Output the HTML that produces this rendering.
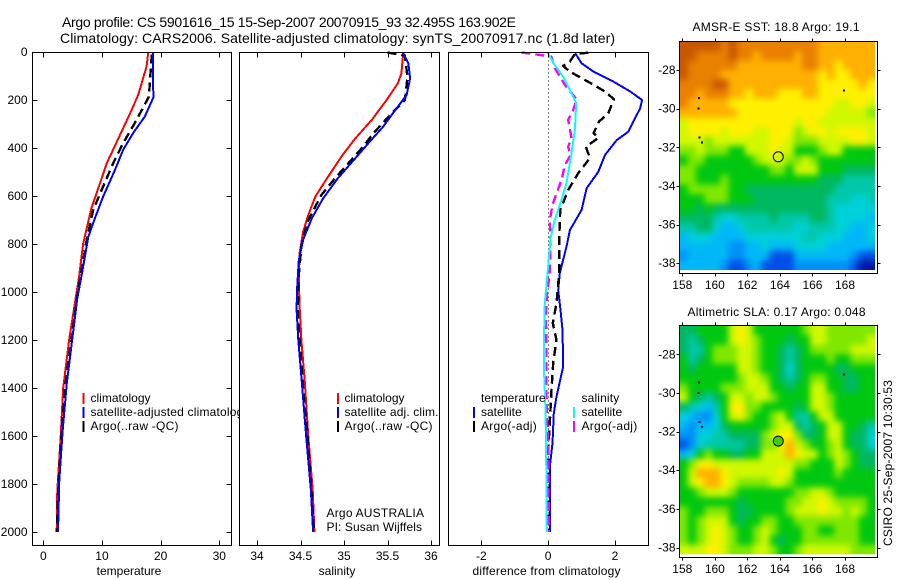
<!DOCTYPE html>
<html lang="en">
<head>
<meta charset="utf-8">
<title>Argo profile</title>
<style>
html,body{margin:0;padding:0;background:#fff;}
svg{display:block;}
text{font-family:"Liberation Sans",sans-serif;font-size:12px;fill:#000;}
.crisp{shape-rendering:crispEdges;}
</style>
</head>
<body>
<svg id="figure" xmlns="http://www.w3.org/2000/svg" width="900" height="580" viewBox="0 0 900 580">
  <defs>
    <filter id="map-smooth" filterUnits="userSpaceOnUse" x="650" y="20" width="250" height="560" color-interpolation-filters="sRGB">
      <feGaussianBlur stdDeviation="3.2"/>
      <feComponentTransfer>
        <feFuncA type="discrete" tableValues="1"/>
      </feComponentTransfer>
    </filter>
  </defs>
  <rect x="0" y="0" width="900" height="580" fill="#fff"/>
  <text x="62" y="27" style="font-size:14px" textLength="454" lengthAdjust="spacing">Argo profile: CS 5901616_15 15-Sep-2007 20070915_93 32.495S 163.902E</text>
  <text x="60" y="43" style="font-size:14px" textLength="555" lengthAdjust="spacing">Climatology: CARS2006. Satellite-adjusted climatology: synTS_20070917.nc (1.8d later)</text>

  <g id="panel-temp">
    <rect x="32.5" y="52.5" width="199" height="493" fill="#fff"/>
    <g id="series-temp" class="crisp" fill="none"></g>
    <g>
      <rect class="crisp" x="82.5" y="393" width="2" height="11" fill="#f00"/>
      <text x="90.5" y="402">climatology</text>
      <rect class="crisp" x="82.5" y="407" width="2" height="11" fill="#00f"/>
      <text x="90.5" y="416" textLength="159" lengthAdjust="spacing">satellite-adjusted climatology</text>
      <rect class="crisp" x="82.5" y="421" width="2" height="11" fill="#000"/>
      <text x="90.5" y="430" textLength="88" lengthAdjust="spacing">Argo(..raw -QC)</text>
    </g>
    <g id="axes-temp"></g>
    <text x="129" y="575" text-anchor="middle">temperature</text>
  </g>

  <g id="panel-sal">
    <rect x="239.5" y="52.5" width="200" height="493" fill="#fff"/>
    <g id="series-sal" class="crisp" fill="none"></g>
    <g>
      <rect class="crisp" x="337" y="393" width="2" height="11" fill="#f00"/>
      <text x="344.5" y="402">climatology</text>
      <rect class="crisp" x="337" y="407" width="2" height="11" fill="#00f"/>
      <text x="344.5" y="416" textLength="94" lengthAdjust="spacing">satellite adj. clim.</text>
      <rect class="crisp" x="337" y="421" width="2" height="11" fill="#000"/>
      <text x="344.5" y="430" textLength="88" lengthAdjust="spacing">Argo(..raw -QC)</text>
    </g>
    <text x="326.5" y="517" textLength="97.5" lengthAdjust="spacing">Argo AUSTRALIA</text>
    <text x="326.5" y="531" textLength="95.5" lengthAdjust="spacing">PI: Susan Wijffels</text>
    <g id="axes-sal"></g>
    <text x="337" y="575" text-anchor="middle">salinity</text>
  </g>

  <g id="panel-diff">
    <rect x="448.5" y="52.5" width="200" height="493" fill="#fff"/>
    <line id="zero-line" class="crisp" stroke="#000" stroke-width="1" stroke-dasharray="1 3"/>
    <g id="series-diff" class="crisp" fill="none"></g>
    <g>
      <text x="481" y="402">temperature</text>
      <rect class="crisp" x="473" y="407" width="2" height="11" fill="#00f"/>
      <text x="481" y="416" textLength="40.7" lengthAdjust="spacing">satellite</text>
      <rect class="crisp" x="473" y="421" width="2" height="11" fill="#000"/>
      <text x="481" y="430" textLength="55.7" lengthAdjust="spacing">Argo(-adj)</text>
      <text x="581.5" y="402" textLength="37.7" lengthAdjust="spacing">salinity</text>
      <rect class="crisp" x="573" y="407" width="2" height="11" fill="#0ff"/>
      <text x="581.5" y="416" textLength="40.7" lengthAdjust="spacing">satellite</text>
      <rect class="crisp" x="573" y="421" width="2" height="11" fill="#f0f"/>
      <text x="581.5" y="430" textLength="55.7" lengthAdjust="spacing">Argo(-adj)</text>
    </g>
    <g id="axes-diff"></g>
    <text x="472.5" y="575" textLength="148" lengthAdjust="spacing">difference from climatology</text>
  </g>

  <text x="692.5" y="31" textLength="167" lengthAdjust="spacing">AMSR-E SST: 18.8 Argo: 19.1</text>
  <g id="map-sst"></g>
  <text x="687.5" y="316" textLength="178" lengthAdjust="spacing">Altimetric SLA: 0.17 Argo: 0.048</text>
  <g id="map-sla"></g>
  <text transform="translate(892,546) rotate(-90)" textLength="166" lengthAdjust="spacing">CSIRO 25-Sep-2007 10:30:53</text>
</svg>

<script>
// ---- profile axis tick values ----
const depthTicks = [0,200,400,600,800,1000,1200,1400,1600,1800,2000];
const tempTicks = [0,10,20,30];
const salTicks = [34,34.5,35,35.5,36];
const salTickLabels = ["34","34.5","35","35.5","36"];
const diffTicks = [-2,0,2];
const lonTicks = [158,160,162,164,166,168];
const latTicks = [-28,-30,-32,-34,-36,-38];

// ---- temperature panel ----
const tempClimDepth = [0,60,178,242,360,464,547,651,798,936,1018,1200,1400,1603,1825,2000];
const tempClimValue = [17.9,17.6,16.2,15.05,12.8,10.8,9.66,8.2,6.8,6.1,5.57,4.4,3.4,2.96,2.39,2.28];
const tempSatDepth = [0,190,269,338,408,492,603,693,770,908,1026,1380,1575,1783,2000];
const tempSatValue = [18.7,18.75,17.3,15.3,13.6,12.2,10.2,8.8,7.67,6.7,5.8,4.0,3.3,2.73,2.5];
const tempArgoDepth = [10,186,283,380,464,561,658,783,1000,1400,1600,1800,2000];
const tempArgoValue = [18.5,18.0,15.9,13.6,11.9,10.2,8.5,7.4,5.9,3.7,3.1,2.6,2.3];

// ---- salinity panel ----
const salClimDepth = [5,89,130,200,283,360,436,540,603,679,749,838,950,1061,1200,1374,1603,1825,2000];
const salClimValue = [35.68,35.66,35.62,35.49,35.32,35.13,34.97,34.78,34.67,34.59,34.53,34.49,34.48,34.49,34.51,34.55,34.59,34.64,34.66];
const salSatDepth = [5,47,110,179,242,311,380,443,526,610,693,783,867,992,1075,1200,1374,1603,1825,2000];
const salSatValue = [35.68,35.74,35.76,35.72,35.59,35.45,35.28,35.13,34.93,34.76,34.63,34.53,34.48,34.46,34.455,34.475,34.515,34.565,34.62,34.645];
const salArgoDepth = [2,15,105,200,255,338,395,464,525,596,707,811,950,1100,1400,1600,1800,2000];
const salArgoValue = [35.5,35.7,35.73,35.7,35.55,35.34,35.22,35.05,34.9,34.74,34.58,34.51,34.475,34.47,34.53,34.58,34.62,34.655];

// ---- difference panel ----
const diffTempSatDepth = [5,47,82,124,165,200,235,276,332,367,429,499,568,658,742,811,921,992,1075,1158,1311,1436,1505,1630,1728,2000];
const diffTempSatValue = [0.81,1.0,1.36,1.96,2.46,2.81,2.75,2.6,2.4,2.05,1.7,1.5,1.15,1.0,0.65,0.55,0.35,0.3,0.37,0.43,0.45,0.25,0.17,0.13,0.05,0.05];
const diffTempArgoDepth = [3,8,40,58,82,124,165,197,255,290,338,358,395,442,505,575,658,783,921,1046,1130,1200,1296,1408,1546,1672,2000];
const diffTempArgoValue = [1.2,0.8,0.65,0.45,0.65,1.2,1.7,1.97,1.8,1.52,1.36,1.5,1.13,1.25,0.9,0.6,0.36,0.33,0.33,0.25,0.14,0.25,0.15,0.1,0.05,0,0];
const diffSalSatDepth = [2,54,103,172,213,325,421,546,617,700,770,894,1046,1171,1337,1492,1644,2000];
const diffSalSatValue = [-0.02,0.2,0.45,0.7,0.84,0.8,0.7,0.55,0.4,0.2,0.08,0,-0.1,-0.12,-0.12,-0.08,-0.06,-0.04];
const diffSalArgoDepth = [2,12,20,67,137,197,242,283,358,395,430,471,533,582,637,700,783,921,1004,1088,1242,1436,1617,2000];
const diffSalArgoValue = [-0.8,-0.25,0.1,0.2,0.5,0.85,0.75,0.6,0.7,0.6,0.67,0.5,0.4,0.27,0.13,0.05,0.07,0.05,-0.03,-0.07,-0.05,-0.05,0,0.02];

// ---- map colour levels (0 = coldest/lowest ... 13 = warmest/highest) ----
const levelColors = ["#0018a8","#0050e8","#0090f8","#00b8f8","#00d0d8","#00c8a8","#00b860","#00c810","#80e800","#d0f800","#fff000","#ffb000","#e88000","#c85800"];
const sstLevels = [
[13,13,13,13,13,12,13,12,12,12,12,12,12,12,12,12,12,11,11,11,11,11,11,11],
[13,13,12,12,12,12,13,12,12,11,12,12,12,12,11,12,12,11,11,11,11,11,11,11],
[13,12,12,12,12,12,12,11,11,11,11,11,11,11,11,12,12,11,11,10,11,11,11,11],
[13,12,12,12,12,11,11,11,11,11,11,11,11,11,11,11,11,10,11,10,10,11,11,11],
[12,12,12,12,13,13,11,11,11,11,11,11,11,11,11,11,11,10,10,10,10,10,11,10],
[12,12,11,12,12,12,11,11,10,11,11,11,10,10,10,11,11,10,10,10,10,10,10,10],
[12,11,11,11,11,11,10,10,10,10,10,10,10,10,10,10,10,10,10,9,9,10,10,9],
[11,11,11,11,11,11,11,10,10,10,10,10,10,10,10,10,10,10,9,9,9,9,9,8],
[9,10,10,10,10,10,10,10,10,10,10,10,10,10,9,10,10,9,9,9,9,9,9,9],
[9,10,10,10,10,9,10,10,10,9,9,10,10,10,8,9,10,10,9,10,10,10,10,9],
[9,9,9,8,9,9,9,9,9,9,9,10,10,9,8,8,8,9,9,9,9,10,10,9],
[8,8,9,8,8,8,7,7,9,9,9,10,9,9,7,7,7,8,9,9,7,7,7,7],
[7,8,8,7,7,7,7,7,7,8,9,9,9,8,8,9,8,7,7,7,7,7,7,7],
[8,8,7,7,7,7,7,7,7,7,7,8,8,7,9,9,9,7,7,7,6,6,6,6],
[8,8,7,7,7,8,7,7,7,7,7,7,7,7,7,7,7,6,6,6,5,5,5,5],
[7,8,8,8,8,8,7,7,6,6,6,6,6,6,6,6,6,6,6,5,5,5,5,5],
[7,7,7,8,8,8,7,7,7,6,6,6,6,6,6,6,6,6,5,5,5,4,4,5],
[7,7,6,7,6,6,6,6,6,6,6,6,6,6,6,6,6,6,5,4,4,4,4,4],
[6,6,6,6,5,4,4,5,5,5,5,6,5,5,5,5,6,6,5,4,4,4,4,3],
[5,5,6,6,4,3,3,4,5,5,5,5,5,5,4,4,5,5,5,4,4,3,3,4],
[3,4,4,4,3,3,3,3,4,4,4,4,4,4,4,5,5,4,4,4,3,3,3,4],
[3,3,3,3,3,3,2,2,3,3,4,3,3,3,4,4,4,4,3,3,3,3,3,3],
[2,3,3,3,3,3,2,2,3,3,3,1,1,1,3,3,3,3,3,3,3,2,1,1],
[3,3,3,3,3,2,1,1,2,3,1,1,1,1,2,2,2,2,2,2,2,1,0,0]
];
const slaLevels = [
[6,6,7,7,7,7,9,10,9,7,7,7,7,7,7,8,9,9,8,8,8,8,8,8],
[6,5,6,7,7,7,9,10,9,8,7,7,7,6,7,7,9,9,8,8,8,8,8,9],
[6,5,5,7,8,8,8,9,9,8,7,7,6,5,6,7,8,8,8,8,8,9,9,9],
[7,5,6,7,8,8,8,9,9,8,7,7,6,5,6,7,7,7,8,7,7,8,8,8],
[7,6,7,7,7,7,7,9,9,8,7,7,6,4,6,7,7,7,7,6,6,7,7,7],
[7,7,7,7,7,7,7,8,9,9,8,7,6,5,6,7,8,8,7,7,6,6,7,7],
[8,7,7,7,7,8,8,8,9,9,9,7,7,6,7,7,9,9,7,7,6,6,7,7],
[9,7,6,5,6,7,9,9,8,9,9,8,7,7,7,7,9,9,8,7,7,7,7,7],
[6,5,4,3,5,7,10,10,8,8,7,7,7,7,6,7,9,9,8,7,7,7,7,7],
[4,3,2,2,4,7,9,10,8,7,7,8,9,7,5,5,7,9,9,7,7,7,7,7],
[3,2,3,3,4,6,7,7,7,7,7,8,9,9,6,5,6,7,9,9,7,7,6,5],
[2,2,4,4,5,5,6,6,6,6,8,9,10,10,8,6,6,7,9,9,7,6,6,4],
[1,2,4,5,5,5,5,5,6,6,8,8,10,11,9,8,7,7,8,9,7,6,6,4],
[3,4,7,8,7,7,6,6,7,7,9,9,9,11,10,9,9,7,8,9,8,7,6,6],
[7,8,10,10,9,9,9,9,9,9,9,9,9,9,8,8,7,7,7,9,8,7,6,6],
[7,9,11,11,11,10,9,9,9,9,9,9,10,9,7,7,7,7,7,8,7,7,7,7],
[7,9,10,11,11,10,9,8,8,8,8,9,9,8,7,7,7,7,7,7,7,7,7,7],
[7,7,8,9,9,9,8,7,7,7,7,7,7,7,8,8,9,9,8,7,7,7,7,7],
[7,7,7,7,7,7,7,6,7,7,7,7,7,8,8,9,9,10,9,8,8,8,8,7],
[8,7,7,8,8,8,7,6,6,7,7,7,7,8,9,9,9,10,9,9,8,9,8,7],
[8,7,8,9,9,9,7,6,7,7,8,8,7,7,8,8,8,8,8,8,8,8,7,7],
[8,7,8,9,10,9,8,7,7,8,9,8,7,7,7,8,8,7,7,8,8,8,7,7],
[8,7,8,9,10,9,8,7,7,8,9,7,6,7,7,8,8,8,8,8,8,8,7,7],
[9,9,9,10,10,9,8,8,8,9,9,8,7,7,8,9,9,9,9,9,9,8,8,8]
];
const islandLon = [159.04,159.0,159.05,159.2,167.95];
const islandLat = [-29.46,-30.0,-31.5,-31.75,-29.05];
const profileLon = [163.902];
const profileLat = [-32.495];

const NS = "http://www.w3.org/2000/svg";
function make(tag, parent, attrs) {
  const el = document.createElementNS(NS, tag);
  for (const k in attrs) el.setAttribute(k, attrs[k]);
  parent.appendChild(el);
  return el;
}
function linear(d0, d1, r0, r1) {
  return v => r0 + (v - d0) * (r1 - r0) / (d1 - d0);
}
const yDepth = linear(0, 2000, 52, 532);
const xTemp = linear(0, 30, 43.3, 219.3);
const xSal = linear(34, 36, 257, 431);
const xDiff = linear(-2, 2, 481.3, 615);
const TOP = 52.5, BOTTOM = 545.5;

function drawProfile(groupId, xScale, depths, values, color, width, dash, name) {
  const pts = values.map((v, i) => xScale(v).toFixed(1) + "," + yDepth(depths[i]).toFixed(1)).join(" ");
  const line = make("polyline", document.getElementById(groupId), {
    points: pts, stroke: color, "stroke-width": width, fill: "none", "stroke-linejoin": "round"
  });
  if (dash) line.setAttribute("stroke-dasharray", dash);
  
  
}

function drawAxes(groupId, left, right, xScale, ticks, labels, withDepth) {
  const g = document.getElementById(groupId);
  const frame = make("rect", g, {x:left, y:TOP, width:right-left, height:BOTTOM-TOP, fill:"none", stroke:"#000", "stroke-width":1, class:"crisp"});
  
  
  ticks.forEach((t, i) => {
    const x = Math.round(xScale(t)) + 0.5;
    const top = make("line", g, {x1:x, x2:x, y1:TOP, y2:TOP+5, stroke:"#000", class:"crisp"});
    
    
    const bottom = make("line", g, {x1:x, x2:x, y1:BOTTOM, y2:BOTTOM-5, stroke:"#000", class:"crisp"});
    
    
    const label = make("text", g, {x:xScale(t), y:560, "text-anchor":"middle"});
    label.textContent = labels[i];
    
    
  });
  if (withDepth) {
    depthTicks.forEach(d => {
      const y = Math.round(yDepth(d)) + 0.5;
      const l = make("line", g, {x1:left, x2:left+5, y1:y, y2:y, stroke:"#000", class:"crisp"});
      
      
      const r = make("line", g, {x1:right, x2:right-5, y1:y, y2:y, stroke:"#000", class:"crisp"});
      
      
      const label = make("text", g, {x:27.5, y:yDepth(d)+4, "text-anchor":"end"});
      label.textContent = String(d);
      
      
    });
  }
}

drawProfile("series-temp", xTemp, tempClimDepth, tempClimValue, "#f00", 2, null, "temperature-climatology-line");
drawProfile("series-temp", xTemp, tempArgoDepth, tempArgoValue, "#000", 2.4, "9 5", "temperature-argo-line");
drawProfile("series-temp", xTemp, tempSatDepth, tempSatValue, "#00f", 2, null, "temperature-satellite-line");
drawAxes("axes-temp", 32.5, 231.5, xTemp, tempTicks, tempTicks.map(String), true);

drawProfile("series-sal", xSal, salClimDepth, salClimValue, "#f00", 2, null, "salinity-climatology-line");
drawProfile("series-sal", xSal, salArgoDepth, salArgoValue, "#000", 2.4, "9 5", "salinity-argo-line");
drawProfile("series-sal", xSal, salSatDepth, salSatValue, "#00f", 2, null, "salinity-satellite-line");
drawAxes("axes-sal", 239.5, 439.5, xSal, salTicks, salTickLabels, false);

const zero = document.getElementById("zero-line");
zero.setAttribute("x1", Math.round(xDiff(0)) + 0.5);
zero.setAttribute("x2", Math.round(xDiff(0)) + 0.5);
zero.setAttribute("y1", TOP);
zero.setAttribute("y2", yDepth(2000));
drawProfile("series-diff", xDiff, diffTempSatDepth, diffTempSatValue, "#00f", 2, null, "difference-temp-satellite-line");
drawProfile("series-diff", xDiff, diffTempArgoDepth, diffTempArgoValue, "#000", 2.4, "9 5", "difference-temp-argo-line");
drawProfile("series-diff", xDiff, diffSalArgoDepth, diffSalArgoValue, "#f0f", 2.4, "9 5", "difference-sal-argo-line");
drawProfile("series-diff", xDiff, diffSalSatDepth, diffSalSatValue, "#0ff", 2, null, "difference-sal-satellite-line");
drawAxes("axes-diff", 448.5, 648.5, xDiff, diffTicks, diffTicks.map(String), false);

function drawMap(groupId, levels, frameTop, frameBottom, yLat28, labelY, markerFill, prefix) {
  const g = document.getElementById(groupId);
  const xLon = linear(158, 168, 682.3, 845);
  const yLat = linear(-28, -38, yLat28, yLat28 + 193.2);
  const lon0 = 157.85, dLon = 0.5, lat0 = -26.52, dLat = -0.493;

  const clipId = prefix + "-clip";
  const clip = make("clipPath", g, {id:clipId});
  make("rect", clip, {
    x: xLon(lon0).toFixed(2),
    y: yLat(lat0).toFixed(2),
    width: (xLon(lon0 + levels[0].length * dLon) - xLon(lon0)).toFixed(2),
    height: (yLat(lat0 + levels.length * dLat) - yLat(lat0)).toFixed(2)
  });
  const clipped = make("g", g, {"clip-path":"url(#" + clipId + ")"});
  
  
  const cells = make("g", clipped, {class:"crisp", filter:"url(#map-smooth)"});
  
  
  levels.forEach((row, r) => {
    row.forEach((v, c) => {
      const x0 = xLon(lon0 + c * dLon), x1 = xLon(lon0 + (c + 1) * dLon);
      const y0 = yLat(lat0 + r * dLat), y1 = yLat(lat0 + (r + 1) * dLat);
      const cell = make("rect", cells, {x:x0.toFixed(2), y:y0.toFixed(2), width:(x1-x0+0.3).toFixed(2), height:(y1-y0+0.3).toFixed(2), fill:levelColors[v]});
      
      
    });
  });
  islandLon.forEach((lon, i) => {
    const isl = make("rect", g, {x:(xLon(lon)-1).toFixed(1), y:(yLat(islandLat[i])-1).toFixed(1), width:2, height:2, fill:"#000", class:"crisp"});
    
    
  });
  const marker = make("circle", g, {cx:xLon(profileLon[0]).toFixed(1), cy:yLat(profileLat[0]).toFixed(1), r:5, fill:markerFill === null ? "none" : markerFill, stroke:"#000", "stroke-width":1});
  
  
  const left = 679.5, right = 877.5;
  const frame = make("rect", g, {x:left, y:frameTop, width:right-left, height:frameBottom-frameTop, fill:"none", stroke:"#000", class:"crisp"});
  
  
  lonTicks.forEach(t => {
    const x = Math.round(xLon(t)) + 0.5;
    const a = make("line", g, {x1:x, x2:x, y1:frameTop, y2:frameTop-3, stroke:"#000", class:"crisp"});
    
    
    const b = make("line", g, {x1:x, x2:x, y1:frameBottom, y2:frameBottom+3, stroke:"#000", class:"crisp"});
    
    
    const label = make("text", g, {x:xLon(t), y:labelY, "text-anchor":"middle"});
    label.textContent = String(t);
    
    
  });
  latTicks.forEach(t => {
    const y = Math.round(yLat(t)) + 0.5;
    const a = make("line", g, {x1:left, x2:left-3, y1:y, y2:y, stroke:"#000", class:"crisp"});
    
    
    const b = make("line", g, {x1:right, x2:right+3, y1:y, y2:y, stroke:"#000", class:"crisp"});
    
    
    const label = make("text", g, {x:675.5, y:yLat(t)+4, "text-anchor":"end"});
    label.textContent = String(t);
    
    
  });
}
drawMap("map-sst", sstLevels, 41.5, 273.5, 70, 289, null, "sst");
drawMap("map-sla", slaLevels, 325.5, 557.5, 354.3, 573, "#40d000", "sla");
</script>
</body>
</html>
